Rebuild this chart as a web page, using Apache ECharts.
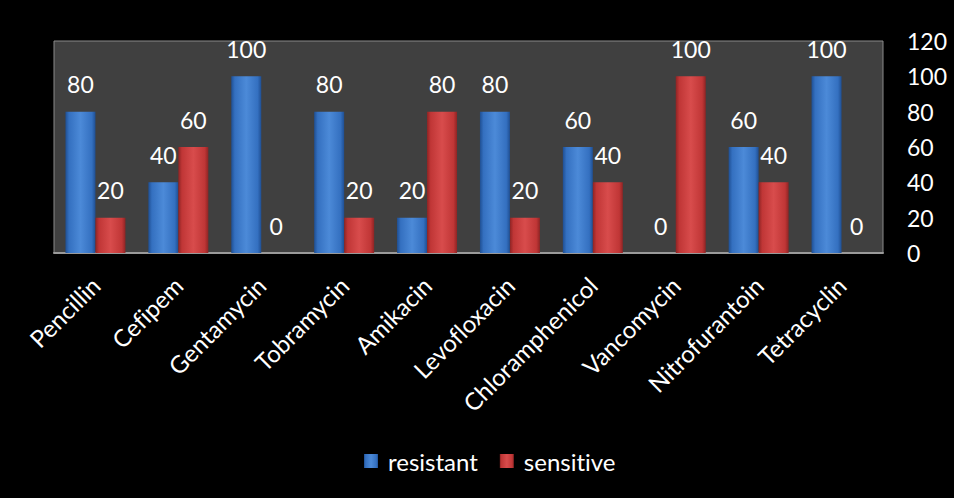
<!DOCTYPE html>
<html>
<head>
<meta charset="utf-8">
<script src="https://cdn.jsdelivr.net/npm/echarts@6/dist/echarts.min.js"></script>
<style>
  html, body { margin: 0; padding: 0; background: #000; }
  #chart { width: 954px; height: 498px; }
  #chart svg text { font-variant-ligatures: none; font-feature-settings: "liga" 0, "clig" 0; }
</style>
</head>
<body>
<div id="chart"></div>
<script>
// Antibiotic susceptibility (%), resistant vs sensitive
const antibiotics = ['Pencillin', 'Cefipem', 'Gentamycin', 'Tobramycin', 'Amikacin',
  'Levofloxacin', 'Chloramphenicol', 'Vancomycin', 'Nitrofurantoin', 'Tetracyclin'];
const resistant = [80, 40, 100, 80, 20, 80, 60, 0, 60, 100];
const sensitive = [20, 60, 0, 20, 80, 20, 40, 100, 40, 0];
const yTicks = { min: 0, max: 120, interval: 20 };

const font = 'Lato, "Open Sans", sans-serif';

function bevel(dark, mid, light) {
  return new echarts.graphic.LinearGradient(0, 0, 1, 0, [
    { offset: 0, color: dark },
    { offset: 0.12, color: mid },
    { offset: 0.5, color: light },
    { offset: 0.88, color: mid },
    { offset: 1, color: dark }
  ]);
}

const valueLabel = { show: true, position: 'top', distance: 16, color: '#fff', fontSize: 23, fontFamily: font };

const chart = echarts.init(document.getElementById('chart'), null, { renderer: 'svg' });
chart.setOption({
  backgroundColor: '#000',
  animation: false,
  textStyle: { fontFamily: font },
  grid: {
    left: 54, right: 71, top: 41, bottom: 245,
    show: true, backgroundColor: '#404040', borderColor: '#8a8a8a', borderWidth: 1
  },
  legend: {
    bottom: 20, left: 359,
    itemWidth: 14, itemHeight: 14, itemGap: 22,
    icon: 'rect',
    textStyle: { color: '#fff', fontSize: 24, fontFamily: font, padding: [0, 0, 0, 5] }
  },
  xAxis: {
    type: 'category',
    data: antibiotics,
    axisLine: { lineStyle: { color: '#9a9a9a', width: 2 } },
    axisTick: { show: false },
    axisLabel: { color: '#fff', fontSize: 24, rotate: 45, margin: 28, interval: 0, fontFamily: font }
  },
  yAxis: {
    type: 'value',
    position: 'right',
    min: yTicks.min, max: yTicks.max, interval: yTicks.interval,
    splitLine: { show: false },
    axisLine: { show: false },
    axisTick: { show: false },
    axisLabel: { color: '#fff', fontSize: 23, margin: 24, fontFamily: font }
  },
  series: [
    {
      name: 'resistant', type: 'bar', data: resistant,
      barWidth: 30, barGap: '0%',
      itemStyle: { color: bevel('#1f4f93', '#3470c0', '#4c8ad8') },
      label: valueLabel
    },
    {
      name: 'sensitive', type: 'bar', data: sensitive,
      barWidth: 30, barGap: '0%',
      itemStyle: { color: bevel('#8e2424', '#c03636', '#d84c4c') },
      label: valueLabel
    }
  ]
});
</script>
</body>
</html>
